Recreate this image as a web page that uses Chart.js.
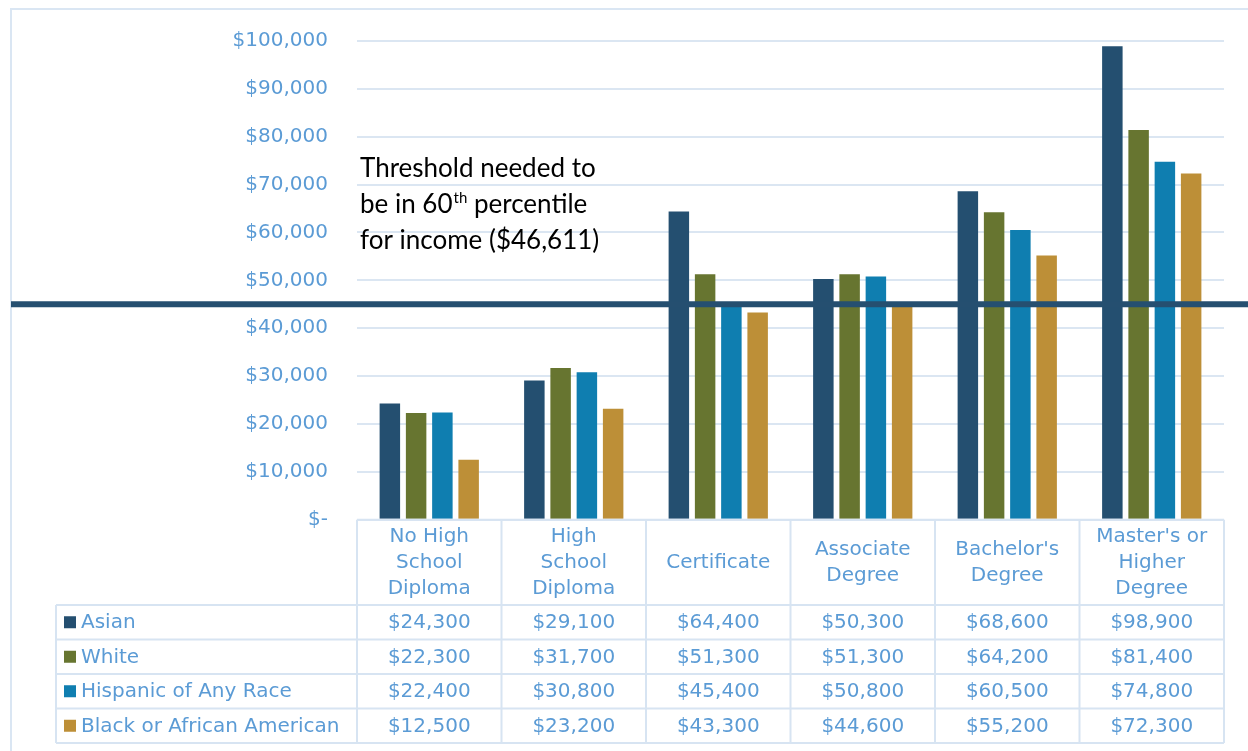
<!DOCTYPE html>
<html>
<head>
<meta charset="utf-8">
<script src="https://cdn.jsdelivr.net/npm/chart.js@4/dist/chart.umd.min.js"></script>
<style>
  html, body { margin: 0; padding: 0; background: #fff; }
  canvas { display: block; }
</style>
</head>
<body>
<canvas id="chart" width="1248" height="751"></canvas>
<script>
// categories (header rows of the data table)
const CATEGORIES = [
    ['No High', 'School', 'Diploma'],
    ['High', 'School', 'Diploma'],
    ['Certificate'],
    ['Associate', 'Degree'],
    ["Bachelor's", 'Degree'],
    ["Master's or", 'Higher', 'Degree']
];
const SERIES_NAMES = ['Asian', 'White', 'Hispanic of Any Race', 'Black or African American'];
const ASIAN = [24300, 29100, 64400, 50300, 68600, 98900];
const WHITE = [22300, 31700, 51300, 51300, 64200, 81400];
const HISPANIC = [22400, 30800, 45400, 50800, 60500, 74800];
const BLACK = [12500, 23200, 43300, 44600, 55200, 72300];
const SERIES_COLORS = ['#244f70', '#677530', '#0f7eb0', '#bd8f37'];
const THRESHOLD_LINE = 45000; // where the line is drawn in the picture
const THRESHOLD_TEXT = ['Threshold needed to', 'be in 60', 'th', ' percentile', 'for income ($46,611)'];

const BLUE_TEXT = '#5b9bd5';
const FRAME = '#d7e4f2';
const BLUE_FONT = '"DejaVu Sans", sans-serif';

function money(v) {
    if (v === 0) return '$-';
    return '$' + v.toLocaleString('en-US');
}

// draws the frame, threshold line, note and the data table under the plot
const tablePlugin = {
    id: 'dataTable',
    beforeDraw: function (chart) {
        var ctx = chart.ctx;
        ctx.save();
        ctx.fillStyle = '#fff';
        ctx.fillRect(0, 0, chart.width, chart.height);
        ctx.strokeStyle = '#dae6f3';
        ctx.lineWidth = 2;
        ctx.beginPath();
        ctx.moveTo(11, chart.height);
        ctx.lineTo(11, 9);
        ctx.lineTo(chart.width, 9);
        ctx.stroke();
        ctx.restore();
    },
    afterDatasetsDraw: function (chart) {
        var ctx = chart.ctx;
        var y = chart.scales.y;
        var ty = y.getPixelForValue(THRESHOLD_LINE);
        ctx.save();
        ctx.strokeStyle = '#254f70';
        ctx.lineWidth = 6;
        ctx.beginPath();
        ctx.moveTo(11, ty);
        ctx.lineTo(chart.width, ty);
        ctx.stroke();

        // note
        ctx.fillStyle = '#000';
        ctx.textBaseline = 'alphabetic';
        ctx.textAlign = 'left';
        var big = '26px Lato, "Open Sans", sans-serif';
        var small = '15px Lato, "Open Sans", sans-serif';
        ctx.font = big;
        ctx.fillText(THRESHOLD_TEXT[0], 360, 177);
        ctx.fillText(THRESHOLD_TEXT[1], 360, 213);
        var w = ctx.measureText(THRESHOLD_TEXT[1]).width;
        ctx.font = small;
        ctx.fillText(THRESHOLD_TEXT[2], 360 + w + 1, 203);
        var w2 = ctx.measureText(THRESHOLD_TEXT[2]).width;
        ctx.font = big;
        ctx.fillText(THRESHOLD_TEXT[3], 360 + w + 1 + w2, 213);
        ctx.fillText(THRESHOLD_TEXT[4], 360, 249);
        ctx.restore();
    },
    afterDraw: function (chart) {
        var ctx = chart.ctx;
        var area = chart.chartArea;
        var x = chart.scales.x;
        var n = CATEGORIES.length;
        var colW = (area.right - area.left) / n;
        var headTop = area.bottom;
        var headBottom = 605;
        var rowH = 34.5;
        var series = [ASIAN, WHITE, HISPANIC, BLACK];
        var tableBottom = headBottom + rowH * series.length;
        var legendLeft = 56;

        ctx.save();
        ctx.strokeStyle = FRAME;
        ctx.lineWidth = 2;
        ctx.beginPath();
        // header top
        ctx.moveTo(area.left, headTop);
        ctx.lineTo(area.right, headTop);
        // row lines
        for (var r = 0; r <= series.length; r++) {
            var ry = headBottom + r * rowH;
            ctx.moveTo(legendLeft, ry);
            ctx.lineTo(area.right, ry);
        }
        // column lines
        for (var c = 0; c <= n; c++) {
            var cx = area.left + c * colW;
            ctx.moveTo(cx, headTop);
            ctx.lineTo(cx, tableBottom);
        }
        ctx.moveTo(legendLeft, headBottom);
        ctx.lineTo(legendLeft, tableBottom);
        ctx.stroke();

        ctx.fillStyle = BLUE_TEXT;
        ctx.font = '20px ' + BLUE_FONT;
        ctx.textAlign = 'center';
        ctx.textBaseline = 'middle';
        var lineH = 26;
        var headMid = (headTop + headBottom) / 2;
        CATEGORIES.forEach(function (lines, i) {
            var cx = x.getPixelForValue(i);
            var y0 = headMid - (lines.length - 1) * lineH / 2;
            lines.forEach(function (t, k) {
                ctx.fillText(t, cx, y0 + k * lineH);
            });
        });

        series.forEach(function (vals, r) {
            var ry = headBottom + r * rowH + rowH / 2;
            vals.forEach(function (v, i) {
                ctx.fillStyle = BLUE_TEXT;
                ctx.textAlign = 'center';
                ctx.fillText(money(v), x.getPixelForValue(i), ry + 1);
            });
            ctx.fillStyle = SERIES_COLORS[r];
            ctx.fillRect(64, ry - 6, 12, 12);
            ctx.fillStyle = BLUE_TEXT;
            ctx.textAlign = 'left';
            ctx.fillText(SERIES_NAMES[r], 81, ry + 1);
        });
        ctx.restore();
    }
};

window.onload = function () {
    var ctx = document.getElementById('chart').getContext('2d');
    var data = [ASIAN, WHITE, HISPANIC, BLACK];
    new Chart(ctx, {
        type: 'bar',
        data: {
            labels: CATEGORIES.map(function (l) { return l.join(' '); }),
            datasets: SERIES_NAMES.map(function (name, i) {
                return {
                    label: name,
                    data: data[i],
                    backgroundColor: SERIES_COLORS[i],
                    categoryPercentage: 0.727,
                    barPercentage: 0.78
                };
            })
        },
        options: {
            responsive: false,
            animation: false,
            layout: {
                padding: { top: 37, right: 24, bottom: 231.3, left: 0 }
            },
            plugins: {
                legend: { display: false },
                tooltip: { enabled: false }
            },
            scales: {
                x: { display: false },
                y: {
                    min: 0,
                    max: 100000,
                    afterFit: function (s) { s.width = 357; },
                    border: { display: false },
                    grid: { color: '#dbe6f2', lineWidth: 2, drawTicks: false },
                    ticks: {
                        stepSize: 10000,
                        padding: 29,
                        color: BLUE_TEXT,
                        font: { family: 'DejaVu Sans', size: 20 },
                        callback: function (v) { return money(v); }
                    }
                }
            }
        },
        plugins: [tablePlugin]
    });
};
</script>
</body>
</html>
